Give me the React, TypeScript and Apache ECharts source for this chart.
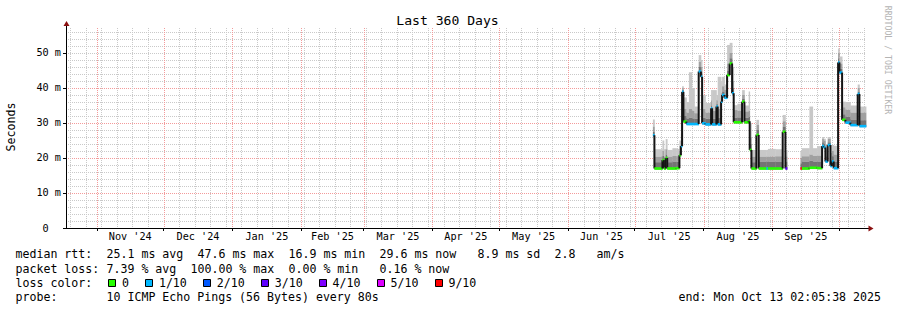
import React, { useEffect, useRef } from 'react';
import * as echarts from 'echarts';

// ---------- texts ----------
const TITLE = 'Last 360 Days';
const Y_NAME = 'Seconds';
const WATERMARK = 'RRDTOOL / TOBI OETIKER';

// ---------- time axis ----------
const START_ISO = '2024-10-18T02:05:38Z'; // left edge
const SPAN_DAYS = 360; // right edge = Mon Oct 13 02:05:38 2025
const MONTH_STARTS = [
  '2024-11-01', '2024-12-01', '2025-01-01', '2025-02-01', '2025-03-01', '2025-04-01',
  '2025-05-01', '2025-06-01', '2025-07-01', '2025-08-01', '2025-09-01', '2025-10-01',
];
const MONTH_LABELS = [
  "Nov '24", "Dec '24", "Jan '25", "Feb '25", "Mar '25", "Apr '25",
  "May '25", "Jun '25", "Jul '25", "Aug '25", "Sep '25",
];
const FIRST_WEEK = '2024-10-20';

// ---------- value axis ----------
const Y_TICKS = [0, 10, 20, 30, 40, 50];
const Y_TICK_LABELS = ['0\u00a0\u00a0', '10\u00a0m', '20\u00a0m', '30\u00a0m', '40\u00a0m', '50\u00a0m'];
const Y_MINOR_STEP = 2;
const Y_MAJOR_STEP = 10;
const Y_MAX_MS = 57.14;

// ---------- samples (x: days since 2025-07-01 00:00, values in ms) ----------
const DATA_ORIGIN = '2025-07-01';
const SAMPLE_DAY = [
  8.19, 8.87, 12.47, 13.14, 13.95, 14.63, 16.97, 18.77, 20.12, 20.79,
  21.33, 21.92, 23.27, 24.39, 25.74, 26.87, 28.8, 29.79, 30.33, 31.82,
  34.38, 34.83, 36.77, 37.35, 38.88, 39.33, 40.37, 41.58, 42.75, 43.83,
  44.55, 46.22, 48.33, 49.37, 51.3, 51.75, 52.52, 54.77, 55.8, 59.27,
  59.94, 63.32, 66.6, 67.82, 68.58, 74.57, 75.24, 78.62, 80.1, 82.08,
  84.33, 85.05, 85.82, 86.85, 88.07, 88.74, 89.55, 91.53, 92.12, 93.33,
  94.82, 97.07, 100.35, 101.12, 104.09,
];
const MEDIAN_MS = [
  26.5, 17.0, 19.4, 17.0, 20.0, 17.0, 17.0, 17.1, 20.8, 23.4,
  38.9, 30.4, 29.7, 29.7, 29.7, 29.7, 44.7, 43.2, 29.9, 29.6,
  34.2, 29.6, 34.7, 29.6, 36.1, 38.0, 37.2, 43.7, 47.0, 38.5,
  30.2, 30.2, 36.1, 30.2, 30.5, 22.3, 17.0, 26.6, 17.0, 17.0,
  17.0, 17.0, 27.5, 17.0, null, 17.0, 17.0, 17.2, 17.2, 17.1,
  23.4, 23.0, 19.0, 23.7, 17.7, 19.0, 17.1, 47.3, 44.4, 30.9,
  30.1, 29.4, 38.3, 29.1, null,
];
const DARK_MS = [
  27.5, 18.8, 20.6, 18.8, 21.0, 18.8, 19.0, 18.9, 22.0, 25.0,
  39.5, 32.0, 31.3, 31.5, 31.3, 31.2, 46.0, 44.5, 31.5, 31.2,
  35.0, 31.2, 35.5, 31.5, 37.0, 39.0, 38.0, 45.0, 48.5, 40.0,
  31.5, 31.6, 37.0, 31.5, 31.8, 24.0, 18.8, 28.0, 19.0, 19.0,
  19.0, 19.0, 29.0, 19.0, null, 18.5, 19.0, 19.2, 19.0, 19.0,
  24.5, 24.0, 20.5, 24.5, 19.5, 20.5, 19.0, 48.5, 45.5, 32.5,
  31.8, 31.0, 39.0, 30.8, null,
];
const MID_MS = [
  29.0, 20.4, 22.0, 20.4, 22.5, 20.4, 20.6, 20.5, 23.5, 27.0,
  40.0, 34.0, 33.0, 34.0, 33.5, 32.8, 47.5, 46.0, 34.0, 33.0,
  36.5, 33.5, 36.5, 34.0, 38.5, 40.5, 39.5, 47.0, 50.0, 42.0,
  33.7, 33.5, 38.0, 33.3, 33.5, 26.0, 20.4, 29.5, 20.4, 20.4,
  20.4, 20.5, 30.5, 20.4, null, 20.0, 20.5, 21.0, 20.6, 20.7,
  25.5, 25.0, 22.5, 25.5, 21.5, 22.0, 21.0, 50.0, 47.0, 34.5,
  33.8, 33.0, 40.0, 33.0, null,
];
const MAX_MS = [
  31.0, 22.5, 25.0, 22.5, 25.4, 22.3, 22.8, 22.6, 25.0, 30.0,
  40.5, 37.3, 36.0, 44.5, 40.0, 34.7, 49.4, 48.0, 38.0, 35.7,
  39.4, 39.4, 38.0, 43.2, 42.0, 43.2, 41.0, 52.3, 52.9, 46.0,
  35.1, 35.5, 39.4, 35.0, 39.0, 30.0, 22.3, 30.9, 22.3, 22.3,
  22.6, 22.5, 32.3, 22.3, null, 22.0, 22.8, 34.7, 22.8, 23.4,
  26.0, 25.5, 24.0, 26.0, 23.7, 23.7, 23.5, 51.3, 49.0, 36.1,
  36.0, 35.0, 41.0, 34.7, null,
];
const LOSS = [
  1, 0, 0, 0, 0, 0, 0, 0, 0, 1,
  1, 0, 1, 1, 1, 1, 1, 1, 1, 1,
  1, 1, 1, 1, 1, 1, 1, 0, 0, 1,
  0, 0, 0, 0, 0, 0, 0, 0, 0, 1,
  0, 0, 0, 3, 0, 9, 0, 0, 0, 0,
  1, 1, 1, 1, 1, 1, 1, 1, 1, 0,
  1, 1, 1, 1, 0,
];

// ---------- legend ----------
const LOSS_LEVELS = [0, 1, 2, 3, 4, 5, 9];
const LOSS_LABELS = ['0', '1/10', '2/10', '3/10', '4/10', '5/10', '9/10'];
const LOSS_COLORS = ['#26ff00', '#00b8ff', '#0059ff', '#5e00ff', '#7e00ff', '#dd00ff', '#ff0000'];
const RTT_LINE = ['median rtt:', '25.1 ms avg', '47.6 ms max', '16.9 ms min', '29.6 ms now', '8.9 ms sd', '2.8', 'am/s'];
const LOSS_LINE = ['packet loss:', '7.39 % avg', '100.00 % max', '0.00 % min', '0.16 % now'];
const COLOR_LINE_HEAD = 'loss color:';
const PROBE_LINE = ['probe:', '10 ICMP Echo Pings (56 Bytes) every 80s'];
const END_TEXT = 'end: Mon Oct 13 02:05:38 2025';

// ---------- layout / style ----------
const MONO = '"DejaVu Sans Mono", monospace';
const W = 897;
const H = 310;
const CW = 7.0; // legend char width
const RTT_COLS = [0, 13, 26, 39, 52, 66, 77, 83];
const LOSS_COLS = [0, 13, 25, 39, 52];
const PROBE_COLS = [0, 13];
const MINOR_GRID = '#c9c9c9';
const MAJOR_GRID = '#f39a9a';

const DAY_MS = 86400000;
const START_MS = Date.parse(START_ISO);
const dayOf = (iso: string) => (Date.parse(iso + 'T00:00:00Z') - START_MS) / DAY_MS;

function lossColor(n: number) {
  let c = LOSS_COLORS[0];
  for (let i = 0; i < LOSS_LEVELS.length; i++) if (n >= LOSS_LEVELS[i]) c = LOSS_COLORS[i];
  return c;
}

export default function App() {
  const ref = useRef<HTMLDivElement>(null);

  useEffect(() => {
    if (!ref.current) return;
    const chart = echarts.init(ref.current, null, { renderer: 'svg' });

    const monthStarts = MONTH_STARTS.map(dayOf);
    const monthMids = MONTH_LABELS.map((_, i) => (monthStarts[i] + monthStarts[i + 1]) / 2);
    const weeks: number[] = [];
    for (let d = dayOf(FIRST_WEEK); d < SPAN_DAYS; d += 7) weeks.push(d);

    const origin = dayOf(DATA_ORIGIN);
    const smokeData: number[][] = [];
    const medData: number[][] = [];
    for (let i = 0; i < SAMPLE_DAY.length - 1; i++) {
      const m = MEDIAN_MS[i];
      if (m == null) continue;
      const x0 = origin + SAMPLE_DAY[i];
      const x1 = origin + SAMPLE_DAY[i + 1];
      smokeData.push([x0, x1, m, DARK_MS[i] as number, MID_MS[i] as number, MAX_MS[i] as number]);
      const prev = i > 0 && MEDIAN_MS[i - 1] != null ? (MEDIAN_MS[i - 1] as number) : -1;
      medData.push([x0, x1, m, prev, LOSS[i]]);
    }

    const lines: any[] = [];
    const txt = (t: string, x: number, y: number, align = 'left') => ({
      type: 'text', x, y, silent: true,
      style: { text: t, fontFamily: MONO, fontSize: 11.6, fill: '#000', align, verticalAlign: 'middle', textAlign: align, textVerticalAlign: 'middle' },
    });
    const addPieces = (pieces: string[], cols: number[], y: number) => {
      pieces.forEach((t, i) => lines.push(txt(t, 15.5 + cols[i] * CW, y)));
    };
    addPieces(RTT_LINE, RTT_COLS, 254.3);
    addPieces(LOSS_LINE, LOSS_COLS, 268.5);
    addPieces([COLOR_LINE_HEAD], [0], 282.6);
    addPieces(PROBE_LINE, PROBE_COLS, 296.7);
    let bx = 108.3;
    LOSS_LABELS.forEach((lab, i) => {
      lines.push({ type: 'rect', silent: true, shape: { x: Math.round(bx) + 0.5, y: 279.5, width: 7, height: 7 }, style: { fill: LOSS_COLORS[i], stroke: '#000', lineWidth: 1 } });
      lines.push(txt(lab, bx + 13.7, 282.6));
      bx += 13.7 + lab.length * CW + 16.2;
    });
    lines.push(txt(END_TEXT, 881, 296.7, 'right'));

    const graphic: any[] = [
      {
        type: 'text', x: 447.5, y: 20.5, silent: true,
        style: { text: TITLE, fontFamily: MONO, fontSize: 13.1, fill: '#000', align: 'center', verticalAlign: 'middle', textAlign: 'center', textVerticalAlign: 'middle' },
      },
      {
        type: 'text', x: 11, y: 127, rotation: Math.PI / 2, silent: true,
        style: { text: Y_NAME, fontFamily: MONO, fontSize: 11.6, fill: '#000', align: 'center', verticalAlign: 'middle', textAlign: 'center', textVerticalAlign: 'middle' },
      },
      {
        type: 'text', x: 887.5, y: 60, rotation: -Math.PI / 2, silent: true,
        style: { text: WATERMARK, fontFamily: MONO, fontSize: 8.2, fill: '#b4b4b4', align: 'center', verticalAlign: 'middle', textAlign: 'center', textVerticalAlign: 'middle' },
      },
      { type: 'line', silent: true, shape: { x1: 866, y1: 228.5, x2: 869, y2: 228.5 }, style: { stroke: '#000', lineWidth: 1 } },
      { type: 'polygon', silent: true, shape: { points: [[868.5, 225.5], [873.5, 228.5], [868.5, 231.5]] }, style: { fill: '#8b1010' } },
      { type: 'line', silent: true, shape: { x1: 66.5, y1: 28, x2: 66.5, y2: 25 }, style: { stroke: '#000', lineWidth: 1 } },
      { type: 'polygon', silent: true, shape: { points: [[63.5, 26], [66.5, 21], [69.5, 26]] }, style: { fill: '#8b1010' } },
      ...lines,
    ];

    const dotted = (color: string) => ({ color, width: 1, type: [1, 1] as any });

    // vertical grid lines drawn through the x scale, snapped to pixel centres
    const vgrid = (days: number[], color: string, z: number) => ({
      type: 'custom', xAxisIndex: 0, yAxisIndex: 0, silent: true, z,
      encode: { x: 0, y: 1 },
      data: days.map((d) => [d, 1]),
      renderItem: (p: any, api: any) => {
        const d = days[p.dataIndex];
        const x = Math.round(api.coord([d, 0])[0]) + 0.5;
        const yb = api.coord([d, 0])[1];
        const yt = api.coord([d, Y_MAX_MS])[1];
        return { type: 'line', shape: { x1: x, y1: yt, x2: x, y2: yb }, style: { stroke: color, lineWidth: 1, lineDash: [1, 1] } };
      },
    });

    const yBase = { type: 'value', min: 0, max: Y_MAX_MS, position: 'left' };
    const option: any = {
      animation: false,
      backgroundColor: '#ffffff',
      grid: { left: 66, right: 31, top: 28, bottom: 82, containLabel: false },
      xAxis: {
        type: 'value', min: 0, max: SPAN_DAYS,
        axisLine: { show: true, lineStyle: { color: '#000', width: 1 } },
        axisTick: { show: true, customValues: monthStarts, length: 3, lineStyle: { color: '#000' } },
        axisLabel: {
          customValues: monthMids,
          formatter: (v: number) => {
            const i = monthMids.findIndex((m) => Math.abs(m - v) < 1e-6);
            return i >= 0 ? MONTH_LABELS[i] : '';
          },
          fontFamily: MONO, fontSize: 10.2, color: '#000', margin: 3,
        },
        splitLine: { show: false },
      },
      yAxis: [
        {
          ...yBase, interval: Y_MINOR_STEP,
          axisLine: { show: false }, axisTick: { show: false }, axisLabel: { show: false },
          splitLine: { show: true, showMinLine: false, showMaxLine: false, lineStyle: dotted(MINOR_GRID) },
        },
        {
          ...yBase, interval: Y_MAJOR_STEP,
          axisLine: { show: true, onZero: false, lineStyle: { color: '#000', width: 1 } },
          axisTick: { show: true, customValues: Y_TICKS, length: 3, lineStyle: { color: '#000' } },
          axisLabel: {
            customValues: Y_TICKS,
            formatter: (v: number) => {
              const i = Y_TICKS.indexOf(Math.round(v));
              return i >= 0 ? Y_TICK_LABELS[i] : '';
            },
            fontFamily: MONO, fontSize: 10.2, color: '#000', margin: 5,
          },
          splitLine: { show: true, showMinLine: false, showMaxLine: false, lineStyle: dotted(MAJOR_GRID) },
        },
      ],
      series: [
        vgrid(weeks, MINOR_GRID, 1),
        vgrid(monthStarts, MAJOR_GRID, 2),
        {
          type: 'custom', name: 'smoke', xAxisIndex: 0, yAxisIndex: 0, silent: true, z: 3,
          encode: { x: [0, 1], y: [2, 3, 4, 5] },
          data: smokeData,
          renderItem: (_p: any, api: any) => {
            const x0 = api.coord([api.value(0), 0])[0];
            const x1 = api.coord([api.value(1), 0])[0];
            const yMed = api.coord([0, api.value(2)])[1];
            const yDark = api.coord([0, api.value(3)])[1];
            const yMid = api.coord([0, api.value(4)])[1];
            const yMax = api.coord([0, api.value(5)])[1];
            const w = x1 - x0 + 0.4;
            return {
              type: 'group',
              children: [
                { type: 'rect', shape: { x: x0, y: yMax, width: w, height: yMid - yMax }, style: { fill: '#c8c8c8' } },
                { type: 'rect', shape: { x: x0, y: yMid, width: w, height: yDark - yMid }, style: { fill: '#a0a0a0' } },
                { type: 'rect', shape: { x: x0, y: yDark, width: w, height: yMed - yDark + 1 }, style: { fill: '#747474' } },
              ],
            };
          },
        },
        {
          type: 'custom', name: 'median', xAxisIndex: 0, yAxisIndex: 0, silent: true, z: 4,
          encode: { x: [0, 1], y: [2] },
          data: medData,
          renderItem: (_p: any, api: any) => {
            const x0 = api.coord([api.value(0), 0])[0];
            const x1 = api.coord([api.value(1), 0])[0];
            const yMed = api.coord([0, api.value(2)])[1];
            const prev = api.value(3);
            const children: any[] = [];
            if (prev >= 0) {
              const yPrev = api.coord([0, prev])[1];
              children.push({ type: 'line', shape: { x1: x0, y1: yPrev, x2: x0, y2: yMed }, style: { stroke: '#141414', lineWidth: 2 } });
            }
            children.push({ type: 'line', shape: { x1: x0, y1: yMed, x2: x1 + 0.3, y2: yMed }, style: { stroke: lossColor(api.value(4)), lineWidth: 2.6 } });
            return { type: 'group', children };
          },
        },
      ],
      graphic,
    };

    chart.setOption(option);
    return () => chart.dispose();
  }, []);

  return <div ref={ref} style={{ position: 'absolute', left: 0, top: 0, width: W, height: H }} />;
}
